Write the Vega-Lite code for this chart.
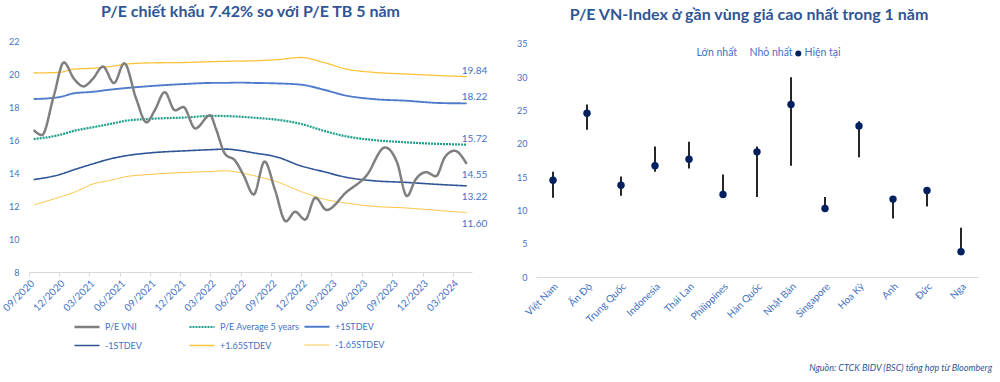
{
  "$schema": "https://vega.github.io/schema/vega-lite/v6.json",
  "background": "white",
  "padding": {"left": 1, "top": 4, "right": 4, "bottom": 4},
  "config": {
    "font": "Lato",
    "view": {"stroke": null},
    "title": {"color": "#2f5597", "fontSize": 16, "fontWeight": "bold", "font": "Lato"},
    "axis": {"labelColor": "#4472c4", "labelFontSize": 9, "labelFont": "Lato"},
    "legend": {"labelFont": "Lato"}
  },
  "spacing": 28,
  "resolve": {
    "scale": {"color": "independent", "strokeDash": "independent", "strokeWidth": "independent"},
    "legend": {"color": "independent", "strokeDash": "independent", "strokeWidth": "independent"}
  },
  "title": {"text": "Nguồn: CTCK BIDV (BSC) tổng hợp từ Bloomberg", "orient": "bottom", "anchor": "end", "fontSize": 9, "fontStyle": "italic", "fontWeight": "normal", "color": "#2f5597", "dx": 14, "offset": 13},
  "datasets": {
    "bands": [
      {"d": "2020-09-15", "p165": 20.06, "p1": 18.48, "avg": 16.06, "m1": 13.6, "m165": 12.06},
      {"d": "2020-12-01", "p165": 20.1, "p1": 18.6, "avg": 16.3, "m1": 13.9, "m165": 12.53},
      {"d": "2021-01-15", "p165": 20.3, "p1": 18.83, "avg": 16.56, "m1": 14.2, "m165": 12.83},
      {"d": "2021-03-12", "p165": 20.35, "p1": 18.92, "avg": 16.77, "m1": 14.55, "m165": 13.33},
      {"d": "2021-05-03", "p165": 20.45, "p1": 19.05, "avg": 16.97, "m1": 14.85, "m165": 13.55},
      {"d": "2021-06-21", "p165": 20.6, "p1": 19.15, "avg": 17.17, "m1": 15.05, "m165": 13.78},
      {"d": "2021-08-21", "p165": 20.67, "p1": 19.25, "avg": 17.27, "m1": 15.2, "m165": 13.9},
      {"d": "2021-12-21", "p165": 20.7, "p1": 19.4, "avg": 17.37, "m1": 15.35, "m165": 14.04},
      {"d": "2022-03-10", "p165": 20.75, "p1": 19.46, "avg": 17.47, "m1": 15.42, "m165": 14.1},
      {"d": "2022-04-15", "p165": 20.77, "p1": 19.46, "avg": 17.45, "m1": 15.45, "m165": 14.14},
      {"d": "2022-05-24", "p165": 20.78, "p1": 19.48, "avg": 17.42, "m1": 15.38, "m165": 14.05},
      {"d": "2022-07-10", "p165": 20.8, "p1": 19.46, "avg": 17.35, "m1": 15.22, "m165": 13.84},
      {"d": "2022-09-18", "p165": 20.87, "p1": 19.43, "avg": 17.23, "m1": 14.97, "m165": 13.47},
      {"d": "2022-12-01", "p165": 21.0, "p1": 19.35, "avg": 16.97, "m1": 14.42, "m165": 12.87},
      {"d": "2023-02-06", "p165": 20.7, "p1": 19.05, "avg": 16.56, "m1": 14.08, "m165": 12.42},
      {"d": "2023-04-15", "p165": 20.3, "p1": 18.69, "avg": 16.22, "m1": 13.74, "m165": 12.18},
      {"d": "2023-07-06", "p165": 20.1, "p1": 18.48, "avg": 16.0, "m1": 13.53, "m165": 11.98},
      {"d": "2023-10-12", "p165": 20.0, "p1": 18.38, "avg": 15.86, "m1": 13.43, "m165": 11.88},
      {"d": "2024-01-24", "p165": 19.9, "p1": 18.24, "avg": 15.76, "m1": 13.3, "m165": 11.72},
      {"d": "2024-04-12", "p165": 19.84, "p1": 18.22, "avg": 15.72, "m1": 13.22, "m165": 11.6}
    ],
    "vni": [
      {"d": "2020-09-15", "s": "vni", "v": 16.6},
      {"d": "2020-10-10", "s": "vni", "v": 16.3},
      {"d": "2020-11-15", "s": "vni", "v": 18.7},
      {"d": "2020-12-15", "s": "vni", "v": 20.7},
      {"d": "2021-01-15", "s": "vni", "v": 19.7},
      {"d": "2021-02-12", "s": "vni", "v": 19.25},
      {"d": "2021-03-12", "s": "vni", "v": 19.7},
      {"d": "2021-04-12", "s": "vni", "v": 20.45},
      {"d": "2021-05-15", "s": "vni", "v": 19.45},
      {"d": "2021-06-15", "s": "vni", "v": 20.65},
      {"d": "2021-07-21", "s": "vni", "v": 18.5},
      {"d": "2021-08-21", "s": "vni", "v": 17.07},
      {"d": "2021-09-15", "s": "vni", "v": 17.8},
      {"d": "2021-10-15", "s": "vni", "v": 18.9},
      {"d": "2021-11-15", "s": "vni", "v": 17.8},
      {"d": "2021-12-10", "s": "vni", "v": 18.0},
      {"d": "2022-01-15", "s": "vni", "v": 16.7},
      {"d": "2022-03-01", "s": "vni", "v": 17.5},
      {"d": "2022-03-18", "s": "vni", "v": 16.7},
      {"d": "2022-04-15", "s": "vni", "v": 15.15},
      {"d": "2022-05-15", "s": "vni", "v": 14.75},
      {"d": "2022-06-10", "s": "vni", "v": 13.85},
      {"d": "2022-07-10", "s": "vni", "v": 12.7},
      {"d": "2022-08-12", "s": "vni", "v": 14.7},
      {"d": "2022-09-12", "s": "vni", "v": 13.0},
      {"d": "2022-10-15", "s": "vni", "v": 11.07},
      {"d": "2022-11-12", "s": "vni", "v": 11.65},
      {"d": "2022-12-12", "s": "vni", "v": 11.17},
      {"d": "2023-01-12", "s": "vni", "v": 12.5},
      {"d": "2023-02-15", "s": "vni", "v": 11.76},
      {"d": "2023-04-15", "s": "vni", "v": 12.83},
      {"d": "2023-06-15", "s": "vni", "v": 13.84},
      {"d": "2023-08-10", "s": "vni", "v": 15.55},
      {"d": "2023-09-15", "s": "vni", "v": 14.65},
      {"d": "2023-10-15", "s": "vni", "v": 12.6},
      {"d": "2023-11-10", "s": "vni", "v": 13.6},
      {"d": "2023-12-12", "s": "vni", "v": 14.05},
      {"d": "2024-01-10", "s": "vni", "v": 13.8},
      {"d": "2024-02-06", "s": "vni", "v": 14.95},
      {"d": "2024-03-06", "s": "vni", "v": 15.35},
      {"d": "2024-04-12", "s": "vni", "v": 14.55}
    ],
    "labels": [
      {"d": "2024-04-12", "v": 19.84, "g": "up"},
      {"d": "2024-04-12", "v": 18.22, "g": "up"},
      {"d": "2024-04-12", "v": 15.72, "g": "up"},
      {"d": "2024-04-12", "v": 14.55, "g": "down"},
      {"d": "2024-04-12", "v": 13.22, "g": "down"},
      {"d": "2024-04-12", "v": 11.6, "g": "down"}
    ],
    "countries": [
      {"c": "Việt Nam", "max": 15.8, "min": 11.9, "cur": 14.55},
      {"c": "Ấn Độ", "max": 25.9, "min": 22.1, "cur": 24.6},
      {"c": "Trung Quốc", "max": 15.1, "min": 12.2, "cur": 13.8},
      {"c": "Indonesia", "max": 19.6, "min": 15.8, "cur": 16.7},
      {"c": "Thái Lan", "max": 20.3, "min": 16.3, "cur": 17.7},
      {"c": "Philippines", "max": 15.4, "min": 12.4, "cur": 12.4},
      {"c": "Hàn Quốc", "max": 19.6, "min": 12.0, "cur": 18.8},
      {"c": "Nhật Bản", "max": 30.0, "min": 16.7, "cur": 25.9},
      {"c": "Singapore", "max": 12.0, "min": 10.3, "cur": 10.3},
      {"c": "Hoa Kỳ", "max": 23.4, "min": 18.0, "cur": 22.7},
      {"c": "Anh", "max": 11.7, "min": 8.8, "cur": 11.7},
      {"c": "Đức", "max": 13.0, "min": 10.6, "cur": 13.0},
      {"c": "Nga", "max": 7.4, "min": 3.8, "cur": 3.8}
    ]
  },
  "hconcat": [
    {
      "width": 443,
      "height": 231,
      "title": {"text": "P/E chiết khấu 7.42% so với P/E TB 5 năm", "offset": 17},
      "encoding": {
        "x": {
          "field": "d", "type": "temporal",
          "scale": {"domain": [{"year": 2020, "month": 9, "date": 1}, {"year": 2024, "month": 4, "date": 28}]},
          "axis": {
            "title": null, "grid": false, "format": "%m/%Y", "labelAngle": -45, "labelOverlap": false,
            "labelFontSize": 10, "labelDx": 6, "labelDy": 3,
            "domainColor": "#d9d9d9", "tickColor": "#d9d9d9", "tickSize": 4, "labelPadding": 2,
            "values": [
              {"year": 2020, "month": 9, "date": 1}, {"year": 2020, "month": 12, "date": 1},
              {"year": 2021, "month": 3, "date": 1}, {"year": 2021, "month": 6, "date": 1},
              {"year": 2021, "month": 9, "date": 1}, {"year": 2021, "month": 12, "date": 1},
              {"year": 2022, "month": 3, "date": 1}, {"year": 2022, "month": 6, "date": 1},
              {"year": 2022, "month": 9, "date": 1}, {"year": 2022, "month": 12, "date": 1},
              {"year": 2023, "month": 3, "date": 1}, {"year": 2023, "month": 6, "date": 1},
              {"year": 2023, "month": 9, "date": 1}, {"year": 2023, "month": 12, "date": 1},
              {"year": 2024, "month": 3, "date": 1}
            ]
          }
        },
        "y": {
          "field": "v", "type": "quantitative",
          "scale": {"domain": [8, 22]},
          "axis": {"title": null, "grid": false, "domain": false, "ticks": false, "labelPadding": 10, "values": [8, 10, 12, 14, 16, 18, 20, 22]}
        }
      },
      "layer": [
        {
          "data": {"name": "bands"},
          "transform": [{"fold": ["p165", "p1", "avg", "m1", "m165"], "as": ["s", "v"]}],
          "mark": {"type": "line", "interpolate": "monotone"},
          "encoding": {
            "color": {
              "field": "s", "type": "nominal",
              "scale": {"domain": ["vni", "avg", "p1", "m1", "p165", "m165"], "range": ["#7f7f7f", "#1f9e89", "#4f7ccc", "#2f5597", "#fcc23a", "#fcc23a"]},
              "legend": {
                "orient": "none", "legendX": 44, "legendY": 272, "direction": "horizontal", "columns": 3,
                "title": null, "symbolType": "stroke", "symbolSize": 625, "gridAlign": "all",
                "labelColor": "#4472c4", "labelFontSize": 9, "columnPadding": 0, "rowPadding": -8, "labelOffset": 4,
                "labelExpr": "{'vni':'P/E VNI','avg':'P/E Average 5 years','p1':'+1STDEV','m1':'-1STDEV','p165':'+1.65STDEV','m165':'-1.65STDEV'}[datum.label]"
              }
            },
            "strokeDash": {
              "field": "s", "type": "nominal",
              "scale": {"domain": ["vni", "avg", "p1", "m1", "p165", "m165"], "range": [[1, 0], [2, 1], [1, 0], [1, 0], [1, 0], [1, 0]]}
            },
            "strokeWidth": {
              "field": "s", "type": "nominal",
              "scale": {"domain": ["vni", "avg", "p1", "m1", "p165", "m165"], "range": [2.5, 1, 1.2, 1.2, 1.2, 1.2]}
            }
          }
        },
        {
          "data": {"name": "vni"},
          "mark": {"type": "line", "interpolate": "monotone"},
          "encoding": {
            "color": {"field": "s", "type": "nominal"},
            "strokeDash": {"field": "s", "type": "nominal"},
            "strokeWidth": {"field": "s", "type": "nominal"}
          }
        },
        {
          "data": {"name": "labels"},
          "transform": [{"filter": {"field": "g", "equal": "up"}}],
          "mark": {"type": "text", "align": "left", "dx": -5, "dy": -6, "fontSize": 10, "color": "#4472c4"},
          "encoding": {"text": {"field": "v", "type": "quantitative", "format": ".2f"}}
        },
        {
          "data": {"name": "labels"},
          "transform": [{"filter": {"field": "g", "equal": "down"}}],
          "mark": {"type": "text", "align": "left", "dx": -5, "dy": 11, "fontSize": 10, "color": "#4472c4"},
          "encoding": {"text": {"field": "v", "type": "quantitative", "format": ".2f"}}
        }
      ]
    },
    {
      "width": 442,
      "height": 236,
      "title": {"text": "P/E VN-Index ở gần vùng giá cao nhất trong 1 năm", "offset": 17, "dx": -8},
      "data": {"name": "countries"},
      "encoding": {
        "x": {
          "field": "c", "type": "nominal", "sort": null,
          "scale": {"paddingInner": 0, "paddingOuter": 0},
          "axis": {"title": null, "labelAngle": -45, "labelFontSize": 10, "ticks": false, "domainColor": "#d9d9d9", "labelPadding": 4, "labelOverlap": false}
        }
      },
      "layer": [
        {
          "mark": {"type": "rule", "color": "#262626", "strokeWidth": 2},
          "encoding": {
            "y": {
              "field": "max", "type": "quantitative",
              "scale": {"domain": [0, 35.45], "nice": false},
              "axis": {"title": null, "grid": false, "domain": false, "ticks": false, "labelPadding": 9, "labelOverlap": false, "values": [0, 5, 10, 15, 20, 25, 30, 35]}
            },
            "y2": {"field": "min"}
          }
        },
        {
          "mark": {"type": "point", "filled": true, "size": 55, "opacity": 1, "shape": "circle"},
          "encoding": {
            "y": {
              "field": "cur", "type": "quantitative",
              "axis": {"title": null, "grid": false, "domain": false, "ticks": false, "labelPadding": 9, "labelOverlap": false, "values": [0, 5, 10, 15, 20, 25, 30, 35]}
            },
            "color": {
              "datum": "Hiện tại", "type": "nominal",
              "scale": {"domain": ["Lớn nhất", "Nhỏ nhất", "Hiện tại"], "range": ["transparent", "transparent", "#002060"]},
              "legend": {
                "orient": "none", "legendX": 149, "legendY": 7, "direction": "horizontal", "title": null,
                "symbolType": "circle", "symbolSize": 36, "labelColor": "#4472c4", "labelFontSize": 10.5,
                "columnPadding": 0, "labelOffset": 1
              }
            }
          }
        }
      ]
    }
  ]
}
